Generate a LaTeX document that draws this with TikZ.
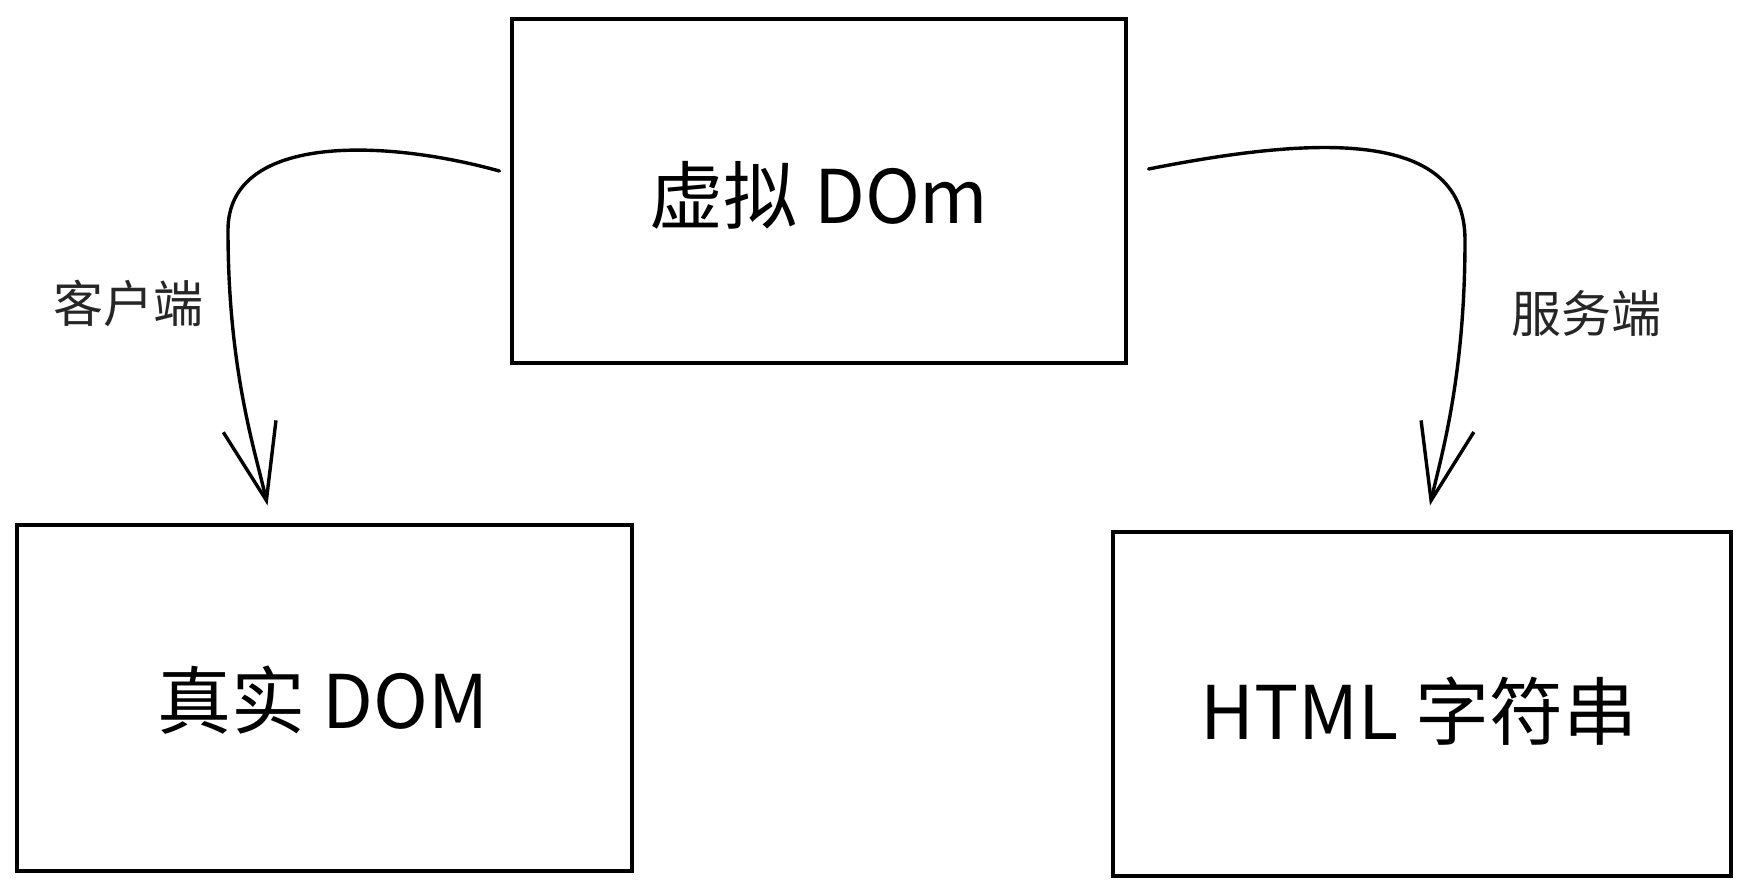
\documentclass[tikz,border=0pt]{standalone}
\usepackage{fontspec}
\setmainfont{Noto Sans CJK SC}
\usetikzlibrary{arrows.meta,calc}
\begin{document}
\begin{tikzpicture}[
  box/.style={draw=black,line width=3.2pt,inner sep=0pt},
  big/.style={font=\fontsize{74}{86}\selectfont},
  lbl/.style={font=\fontsize{50}{60}\selectfont,text=black!85},
  conn/.style={draw=black,line width=3.4pt,line cap=round,-{Straight Barb[length=76pt,width=54pt,line width=3.4pt]}}]
\begin{scope}[x=1pt,y=-1pt]
\useasboundingbox (0,0) rectangle (1745,896);
\node[box,minimum width=614pt,minimum height=344pt] (top) at (819,191) {};
\node[box,minimum width=615pt,minimum height=346pt] (cl) at (324.5,698) {};
\node[box,minimum width=618pt,minimum height=344pt] (sr) at (1422,704) {};
\node[big] (ttop) at (819,195) {虚拟 DOm};
\node[big] (tcl) at (323,700) {真实 DOM};
\node[big] (tsr) at (1419,711) {HTML 字符串};
\node[lbl] (lc) at (128,303) {客户端};
\node[lbl] (ls) at (1586,314) {服务端};
\coordinate (c1) at (380,138);
\coordinate (c2) at (228,135);
\coordinate (m1) at (228,230);
\coordinate (c3) at (228,370);
\coordinate (c4) at (255,450);
\coordinate (d1) at (1320,135);
\coordinate (d2) at (1465,130);
\coordinate (m2) at (1465,240);
\coordinate (d3) at (1465,380);
\coordinate (d4) at (1440,460);
\end{scope}
\draw[conn] ([shift={(-11pt,20pt)}]top.west) .. controls (c1) and (c2) .. (m1)
  .. controls (c3) and (c4) .. ([shift={(-57pt,18pt)}]cl.north);
\draw[conn] ([shift={(21pt,22pt)}]top.east) .. controls (d1) and (d2) .. (m2)
  .. controls (d3) and (d4) .. ([shift={(8pt,25pt)}]sr.north);
\end{tikzpicture}
\end{document}
